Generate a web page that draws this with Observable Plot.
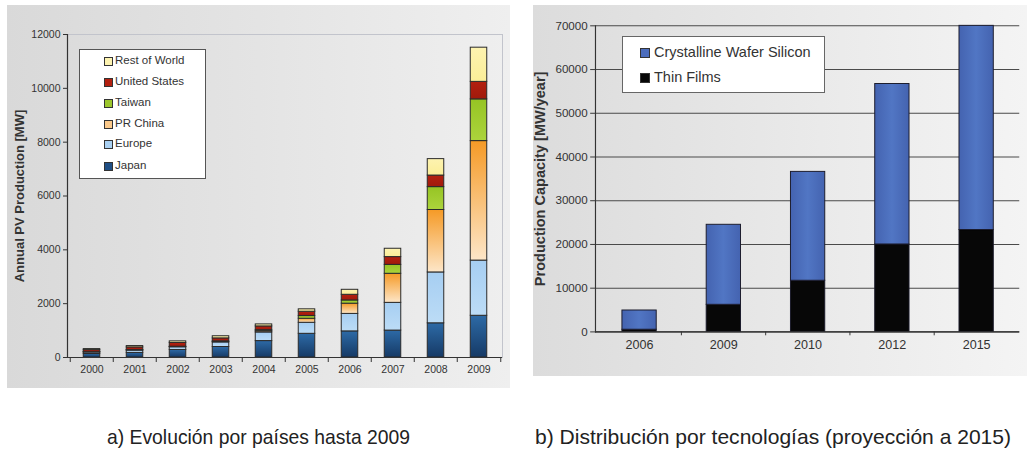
<!DOCTYPE html>
<html>
<head>
<meta charset="utf-8">
<script src="https://cdn.jsdelivr.net/npm/d3@7"></script>
<script src="https://cdn.jsdelivr.net/npm/@observablehq/plot@0.6"></script>
<style>
  body { margin: 0; background: #fff; }
  #root { position: relative; width: 1027px; height: 455px; overflow: hidden; background: #fff; font-family: "Liberation Sans", Arial, sans-serif; }
  .panel { position: absolute; }
  .legend { position: absolute; background: #fff; border: 1px solid #555; box-sizing: border-box; }
  .item { position: absolute; white-space: nowrap; color: #333; }
  .sw { position: absolute; box-sizing: border-box; border: 1px solid #333; }
  .cap { position: absolute; top: 425px; font-family: "Liberation Sans", Arial, sans-serif; font-size: 21px; color: #222; white-space: nowrap; transform-origin: 0 0; line-height: 24px; }
</style>
</head>
<body>
<svg width="0" height="0" style="position:absolute">
  <defs>
    <linearGradient id="gJapan" x1="0" y1="0" x2="0" y2="1">
      <stop offset="0" stop-color="#2d6aa6"/><stop offset="1" stop-color="#163a66"/>
    </linearGradient>
    <linearGradient id="gEurope" x1="0" y1="0" x2="0" y2="1">
      <stop offset="0" stop-color="#a6cef2"/><stop offset="1" stop-color="#bcdcf6"/>
    </linearGradient>
    <linearGradient id="gChina" x1="0" y1="0" x2="0" y2="1">
      <stop offset="0" stop-color="#f59a26"/><stop offset="1" stop-color="#fde6c8"/>
    </linearGradient>
    <linearGradient id="gTaiwan" x1="0" y1="0" x2="0" y2="1">
      <stop offset="0" stop-color="#96c424"/><stop offset="1" stop-color="#acd43c"/>
    </linearGradient>
    <linearGradient id="gUS" x1="0" y1="0" x2="0" y2="1">
      <stop offset="0" stop-color="#b3200f"/><stop offset="1" stop-color="#a01a0c"/>
    </linearGradient>
    <linearGradient id="gRow" x1="0" y1="0" x2="0" y2="1">
      <stop offset="0" stop-color="#fdf3b0"/><stop offset="1" stop-color="#fbee98"/>
    </linearGradient>
    <linearGradient id="gCrys" x1="0" y1="0" x2="1" y2="0">
      <stop offset="0" stop-color="#4463b0"/><stop offset="0.5" stop-color="#5176c4"/><stop offset="1" stop-color="#4463b0"/>
    </linearGradient>
  </defs>
</svg>
<div id="root">
  <div id="left" class="panel" style="left:7px;top:5px"></div>
  <div id="right" class="panel" style="left:533px;top:5px"></div>
  <div id="legL" class="legend" style="left:79px;top:49px;width:127px;height:130px"></div>
  <div id="legR" class="legend" style="left:622px;top:36px;width:203px;height:57px;border-color:#666"></div>
  <div class="cap" data-x0="107" data-x1="410">a) Evolución por países hasta 2009</div>
  <div class="cap" data-x0="535" data-x1="1011">b) Distribución por tecnologías (proyección a 2015)</div>
</div>
<script>
// ---- Chart a) data ----
const years = ["2000","2001","2002","2003","2004","2005","2006","2007","2008","2009"];
const countries = ["Japan","Europe","PR China","Taiwan","United States","Rest of World"];
const japan  = [130, 170, 280, 390, 610, 880, 970, 1000, 1270, 1550];
const europe = [ 60,  90, 100, 170, 320, 410, 650, 1030, 1890, 2050];
const china  = [  3,   5,  10,  15,  45, 150, 380, 1080, 2320, 4440];
const taiwan = [  5,  10,  10,  25,  40, 100, 120,  330,  850, 1550];
const usa    = [ 75, 100, 140, 110, 140, 160, 210,  290,  430,  650];
const rest   = [ 40,  50,  60,  80,  75,  90, 185,  310,  610, 1270];
const yTicksA = [0, 2000, 4000, 6000, 8000, 10000, 12000];

// ---- Chart b) data ----
const capYears = ["2006","2009","2010","2012","2015"];
const techs = ["Thin Films", "Crystalline Wafer Silicon"];
const thinFilms   = [ 500,  6200, 11700, 20000, 23300];
const crystalline = [4400, 18300, 24900, 36700, 46700];
const yTicksB = [0, 10000, 20000, 30000, 40000, 50000, 60000, 70000];

// colours
const countryFills = ["url(#gJapan)","url(#gEurope)","url(#gChina)","url(#gTaiwan)","url(#gUS)","url(#gRow)"];
const countrySwatch = ["#1f4f85","#a9d0f2","#fbc98a","#9cc62c","#b3200f","#fdf3b0"];
const techFills = ["#070707", "url(#gCrys)"];
const techSwatch = ["#070707", "#4b6cbc"];

const seriesA = [japan, europe, china, taiwan, usa, rest];
const dataA = countries.flatMap((c, i) => years.map((y, j) => ({year: y, country: c, value: seriesA[i][j]})));
const seriesB = [thinFilms, crystalline];
const dataB = techs.flatMap((t, i) => capYears.map((y, j) => ({year: y, tech: t, value: seriesB[i][j]})));

const FONT = "'Liberation Sans', Arial, sans-serif";

// ---- Plot a) ----
const wA = 503, hA = 383, mlA = 60, mrA = 8, mtA = 29, mbA = 31;
const stepA = (wA - mlA - mrA) / years.length;
const barWA = 17;
const plotA = Plot.plot({
  width: wA, height: hA,
  marginLeft: mlA, marginRight: mrA, marginTop: mtA, marginBottom: mbA,
  style: {background: "linear-gradient(to right, #d9d9d9, #efefef)", fontFamily: FONT, color: "#333"},
  x: {domain: years, padding: 0, label: null},
  y: {domain: [0, 12000], label: null},
  color: {domain: countries, range: countryFills},
  marks: [
    Plot.frame({stroke: "#c2c4cc"}),
    Plot.barY(dataA, {x: "year", y: "value", fill: "country", stroke: "#2a2a2a", strokeWidth: 1,
      insetLeft: (stepA - barWA) / 2, insetRight: (stepA - barWA) / 2}),
    Plot.axisY({ticks: yTicksA, tickSize: 4, tickPadding: 3, fontSize: 10.5, fill: "#333", stroke: "#333", label: null, tickFormat: d => String(d)}),
    Plot.axisX({tickSize: 0, tickPadding: 8, fontSize: 10.5, fill: "#333", label: null}),
    Plot.ruleX(years, {x: d => d, y1: 0, y2: 0, insetBottom: -5, dx: -stepA / 2, stroke: "#333"}),
    Plot.ruleX(years.slice(-1), {x: d => d, y1: 0, y2: 0, insetBottom: -5, dx: stepA / 2, stroke: "#333"}),
    Plot.ruleY([0], {stroke: "#333", strokeWidth: 1.2}),
    Plot.frame({anchor: "left", stroke: "#333", strokeWidth: 1.2}),
    Plot.text(["Annual PV Production [MW]"], {frameAnchor: "left", textAnchor: "middle", rotate: -90, dx: -48, fontSize: 13, fontWeight: "bold", fill: "#333"})
  ]
});
document.getElementById("left").append(plotA);

// ---- Plot b) ----
const wB = 510, hB = 383, mlB = 64, mrB = 8, mtB = 21, mbB = 46;
const stepB = (wB - mlB - mrB) / capYears.length;
const barWB = 36;
const plotB = Plot.plot({
  width: wB, height: hB,
  marginLeft: mlB, marginRight: mrB, marginTop: mtB, marginBottom: mbB,
  style: {background: "linear-gradient(to right, #dcdcdc, #f4f4f4)", fontFamily: FONT, color: "#333"},
  x: {domain: capYears, padding: 0, label: null},
  y: {domain: [0, 70000], label: null},
  color: {domain: techs, range: techFills},
  marks: [
    Plot.ruleY(yTicksB, {stroke: "#4a4a4a", strokeWidth: 1.1}),
    Plot.barY(dataB, {x: "year", y: "value", fill: "tech", stroke: "#1a1a2a", strokeWidth: 1,
      insetLeft: (stepB - barWB) / 2, insetRight: (stepB - barWB) / 2}),
    Plot.axisY({ticks: yTicksB, tickSize: 5, tickPadding: 3, fontSize: 12, fill: "#333", stroke: "#333", label: null, tickFormat: d => String(d)}),
    Plot.axisX({tickSize: 0, tickPadding: 8, fontSize: 13, fill: "#333", label: null}),
    Plot.ruleX(capYears.slice(1), {x: d => d, y1: 0, y2: 0, insetBottom: -4, dx: -stepB / 2, stroke: "#333"}),
    Plot.ruleY([0], {stroke: "#333", strokeWidth: 1.2}),
    Plot.frame({anchor: "left", stroke: "#333", strokeWidth: 1.2}),
    Plot.text(["Production Capacity [MW/year]"], {frameAnchor: "left", textAnchor: "middle", rotate: -90, dx: -57, fontSize: 15, fontWeight: "bold", fill: "#333"})
  ]
});
document.getElementById("right").append(plotB);

// ---- Legends ----
function addLegend(id, names, colors, opts) {
  const box = document.getElementById(id);
  const rect = box.getBoundingClientRect();
  const root = document.getElementById("root").getBoundingClientRect();
  names.forEach((n, i) => {
    const cy = opts.rows[i] - (rect.top - root.top);
    const sw = document.createElement("div");
    sw.className = "sw";
    sw.style.left = (opts.swX - (rect.left - root.left)) + "px";
    sw.style.top = (cy - opts.sw / 2) + "px";
    sw.style.width = opts.sw + "px";
    sw.style.height = opts.sw + "px";
    sw.style.background = colors[i];
    box.append(sw);
    const t = document.createElement("div");
    t.className = "item";
    t.textContent = n;
    t.style.left = (opts.textX - (rect.left - root.left)) + "px";
    t.style.top = (cy - opts.font * 0.6) + "px";
    t.style.fontSize = opts.font + "px";
    t.style.lineHeight = (opts.font * 1.2) + "px";
    box.append(t);
  });
}
addLegend("legL", countries.slice().reverse(), countrySwatch.slice().reverse(),
  {rows: [60, 81, 102, 123, 143, 165], swX: 103, textX: 114, sw: 9, font: 11.5});
addLegend("legR", techs.slice().reverse(), techSwatch.slice().reverse(),
  {rows: [52, 77], swX: 639, textX: 653, sw: 10, font: 14.5});

// ---- Captions: condensed to the reference's span ----
document.querySelectorAll(".cap").forEach(el => {
  const x0 = +el.dataset.x0, x1 = +el.dataset.x1;
  const w = el.getBoundingClientRect().width;
  el.style.left = x0 + "px";
  el.style.transform = `scaleX(${(x1 - x0) / w})`;
});
</script>
</body>
</html>
